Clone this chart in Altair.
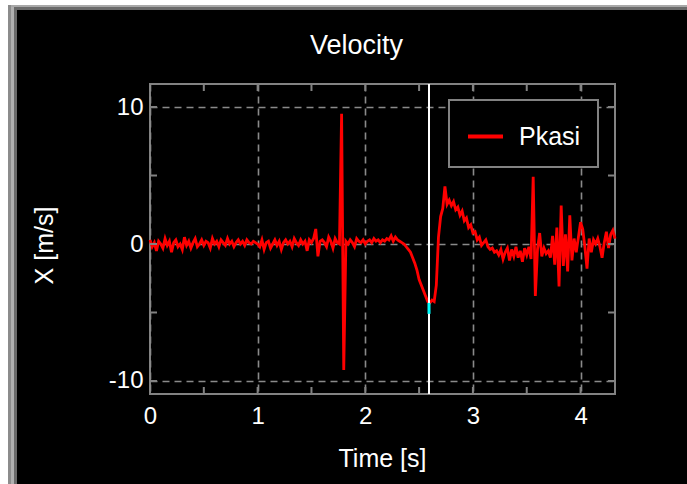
import altair as alt
import pandas as pd

FONT = "Liberation Sans"
GRID = "#8a8a8a"
BOX = "#828282"

# Velocity trace, sampled every 0.02 s
DT = 0.02
vel_quiet_a = [  # 0.00 - 1.00 s
    0.3, -0.2, 0.1, -0.5, 0.2, 0.0, -0.3, 0.4, -0.1, 0.2,
    -0.6, 0.1, 0.3, -0.2, 0.0, -0.4, 0.5, -0.1, 0.2, -0.3,
    0.1, 0.4, -0.2, 0.0, 0.3, -0.1, 0.2, 0.1, -0.3, 0.4,
    0.0, 0.2, -0.2, 0.3, 0.1, -0.1, 0.4, 0.0, 0.2, -0.2,
    0.1, 0.3, 0.0, 0.2, -0.1, 0.3, 0.1, 0.0, 0.2, 0.1,
    0.0,
]
vel_quiet_b = [  # 1.02 - 2.30 s
    -0.2, 0.3, -0.4, 0.1, 0.2, -0.3, 0.0, 0.3, -0.1, 0.2,
    -0.4, 0.1, 0.3, 0.0, 0.2, -0.2, 0.4, 0.1, -0.1, 0.3,
    0.0, 0.2, -0.5, 0.3, 0.1, 0.4, 1.1, -0.9, 0.2, 0.3,
    0.1, -0.2, 0.5, 0.2, -0.3, 0.4, 0.1, 0.0, 9.5, -9.2,
    0.2, 0.0, 0.3, 0.1, -0.2, 0.4, 0.2, 0.1, 0.3, 0.0,
    0.2, 0.3, 0.1, 0.4, 0.2, 0.3, 0.1, 0.3, 0.2, 0.4,
    0.3, 0.6, 0.2, 0.5, 0.3,
]
vel_dip = [  # 2.32 - 2.60 s
    0.2, 0.1, 0.0, -0.2, -0.4, -0.6, -1.0, -1.4, -1.9, -2.6,
    -3.0, -3.4, -3.8, -4.2, -4.3,
]
vel_rebound = [  # 2.62 - 3.30 s
    -4.1, -4.2, -3.0, 0.5, 2.0, 2.6, 4.2, 2.9, 3.2, 2.8,
    3.1, 2.5, 2.7, 2.1, 2.4, 1.7, 1.9, 1.2, 1.4, 0.8,
    0.9, 0.3, 0.5, -0.1, 0.1, 0.3, -0.2, -0.4, -0.3, -0.6,
    -0.5, -0.8, -0.4, -1.1, -0.6,
]
vel_tail = [  # 3.32 - 4.32 s
    -0.3, -1.2, -0.4, -0.9, -0.2, -1.0, -0.5, -1.3, -0.3, -0.8,
    -0.2, -1.1, 4.9, -3.8, -0.4, 0.8, -0.9, -0.3, -0.7, -0.5,
    -1.0, 0.6, -1.5, 1.2, -3.1, 2.8, -1.6, 0.7, -2.0, 2.1,
    -1.2, 0.4, -0.6, 0.5, 1.6, 1.1, -0.2, -1.8, 0.4, -0.6,
    0.3, 0.0, 0.4, -0.2, -1.0, 0.1, 0.9, -0.3, 0.7, 1.0,
    0.4,
]
series_name = "Pkasi"

# Time cursor and the marker segment drawn on it
cursor_time = [2.592]
marker_values = [-4.3, -5.1]

# Axis ticks
x_labels = [0, 1, 2, 3, 4]
x_minor = [0.5, 1.0, 1.5, 2.0, 2.5, 3.0, 3.5, 4.0]
y_labels = [-10, 0, 10]
y_minor = [-10, -5, 0, 5, 10]

X_DOMAIN = [0, 4.32]
Y_DOMAIN = [-10.95, 11.68]
W, H = 465, 310
PAD = {"left": 150, "top": 84, "right": 72, "bottom": 90}

velocity = vel_quiet_a + vel_quiet_b + vel_dip + vel_rebound + vel_tail
trace = pd.DataFrame({
    "t": [round(i * DT, 2) for i in range(len(velocity))],
    "v": velocity,
    "series": series_name,
})

xs = alt.Scale(domain=X_DOMAIN, nice=False, zero=False)
ys = alt.Scale(domain=Y_DOMAIN, nice=False, zero=False)

# plain hyphen-minus in tick labels
plain_label = "'' + datum.value"

x_axis = alt.Axis(
    values=x_labels, title="Time [s]", grid=True, gridColor=GRID,
    gridDash=[7, 5], gridWidth=1.6, domain=False, ticks=False, tickSize=0,
    labelColor="white", labelFontSize=24, labelFont=FONT, labelPadding=10,
    labelFlush=False, labelExpr=plain_label,
    titleColor="white", titleFontSize=25, titleFont=FONT,
    titleFontWeight="normal", titleX=232, titleY=72,
    titleBaseline="alphabetic", titleAlign="center",
)
y_axis = alt.Axis(
    values=y_labels, title="X [m/s]", grid=True, gridColor=GRID,
    gridDash=[7, 5], gridWidth=1.6, domain=False, ticks=False, tickSize=0,
    labelColor="white", labelFontSize=24, labelFont=FONT, labelPadding=7,
    labelExpr=plain_label,
    titleColor="white", titleFontSize=25, titleFont=FONT,
    titleFontWeight="normal", titleX=-98, titleY=161, titleAngle=-90,
    titleBaseline="alphabetic", titleAlign="center",
)


def X(field="t"):
    return alt.X(f"{field}:Q", scale=xs, axis=x_axis)


def Y(field="v"):
    return alt.Y(f"{field}:Q", scale=ys, axis=y_axis)


one_row = pd.DataFrame({"k": [0]})


def panel_rect(x0, x1, y0, y1, color):
    """A filled band of the window frame, in pixels from the plot origin."""
    return alt.Chart(one_row).mark_rect(color=color).encode(
        x=alt.value(x0), x2=alt.value(x1), y=alt.value(y0), y2=alt.value(y1)
    )


L, T = -PAD["left"], -PAD["top"]
R, B = W + PAD["right"], H + PAD["bottom"]
frame = [
    panel_rect(L, R, T, T + 5, "white"),
    panel_rect(L, L + 8, T, B, "white"),
    panel_rect(L + 8, R, T + 5, T + 7, "#a8a8a8"),
    panel_rect(L + 8, R, T + 7, T + 10, "#6a6a6a"),
    panel_rect(L + 8, L + 11, T + 5, B, "#8c8c8c"),
    panel_rect(L + 11, L + 14, T + 7, B, "#b0b0b0"),
    panel_rect(L + 14, L + 17, T + 10, B, "#6a6a6a"),
]

line = alt.Chart(trace).mark_line(strokeWidth=2.8, interpolate="linear").encode(
    x=X(), y=Y(),
    color=alt.Color("series:N", scale=alt.Scale(domain=[series_name], range=["#ff0000"]),
                    legend=alt.Legend(
                        title=None, orient="none", legendX=299, legendY=16,
                        strokeColor=BOX, fillColor="black", padding=17,
                        symbolType="stroke", symbolStrokeWidth=4, symbolSize=1225,
                        labelFontSize=25, labelColor="white", labelFont=FONT,
                        labelOffset=14,
                    )),
)

cursor = alt.Chart(pd.DataFrame({"t": cursor_time})).mark_rule(
    color="white", strokeWidth=2
).encode(x=X())

marker = alt.Chart(pd.DataFrame({"t": cursor_time * 2, "v": marker_values})).mark_line(
    color="#00ffff", strokeWidth=3
).encode(x=X(), y=Y())

xt = pd.DataFrame({"t": x_minor})
yt = pd.DataFrame({"v": y_minor})
tick_style = dict(color=BOX, strokeWidth=2)
ticks = [
    alt.Chart(xt).mark_rule(**tick_style).encode(x=X(), y=alt.value(0), y2=alt.value(7)),
    alt.Chart(xt).mark_rule(**tick_style).encode(x=X(), y=alt.value(H), y2=alt.value(H - 7)),
    alt.Chart(yt).mark_rule(**tick_style).encode(y=Y(), x=alt.value(0), x2=alt.value(7)),
    alt.Chart(yt).mark_rule(**tick_style).encode(y=Y(), x=alt.value(W), x2=alt.value(W - 7)),
]

chart = alt.layer(*frame, line, cursor, marker, *ticks).properties(
    width=W, height=H,
    background="black",
    padding=PAD,
    autosize=alt.AutoSizeParams(type="none"),
    title=alt.TitleParams(
        "Velocity", color="white", fontSize=27, font=FONT, fontWeight="normal",
        baseline="alphabetic", offset=0, dx=-26, dy=81,
    ),
).configure_view(stroke=BOX, strokeWidth=2).configure_legend(strokeWidth=2)

chart.save("out.html", embed_options={"renderer": "svg", "actions": False})
